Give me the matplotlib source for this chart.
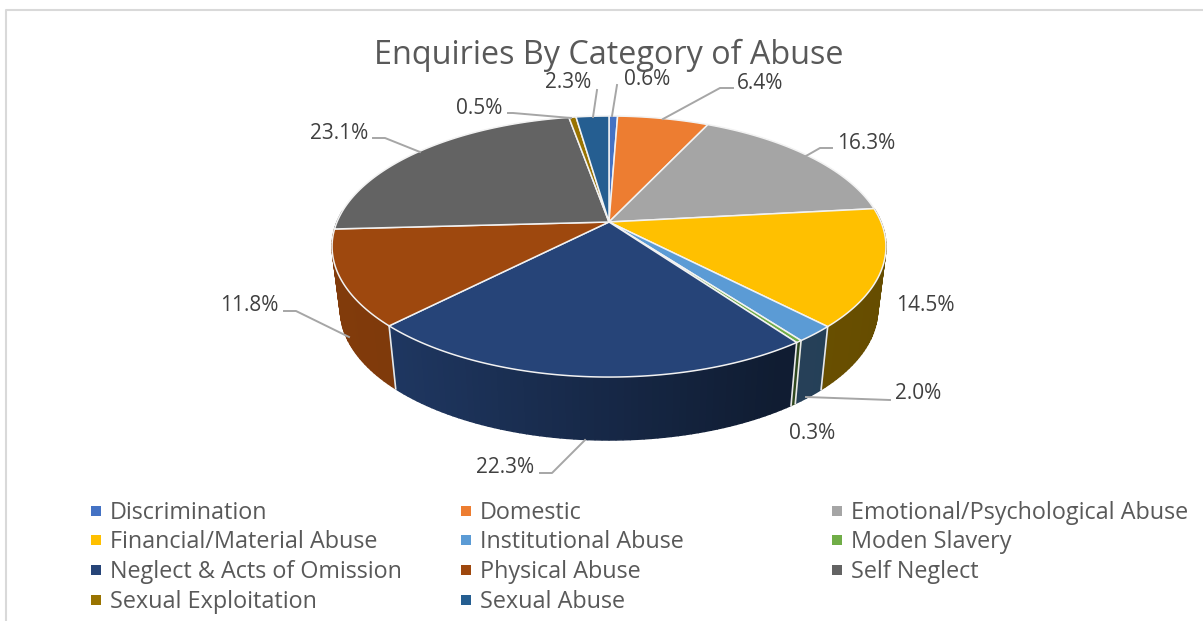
import numpy as np
import matplotlib

matplotlib.use('Agg')
import matplotlib.pyplot as plt
from matplotlib.patches import Polygon

plt.rcParams['font.family'] = ['Open Sans', 'DejaVu Sans']

categories = ['Discrimination', 'Domestic', 'Emotional/Psychological Abuse',
              'Financial/Material Abuse', 'Institutional Abuse', 'Moden Slavery',
              'Neglect & Acts of Omission', 'Physical Abuse', 'Self Neglect',
              'Sexual Exploitation', 'Sexual Abuse']
values = [0.6, 6.4, 16.3, 14.5, 2.0, 0.3, 22.3, 11.8, 23.1, 0.5, 2.3]
colors = ['#4472C4', '#ED7D31', '#A5A5A5', '#FFC000', '#5B9BD5', '#70AD47',
          '#264478', '#9E480E', '#636363', '#997300', '#255E91']

# label position (centre x, baseline y), then the leader line (empty when a label has none)
label_pos = [(647, 85), (760, 89), (866, 149), (925, 311), (918, 399), (812, 439),
             (505, 473), (249, 311), (339, 139), (479, 114), (568, 88)]
leaders = [[(612, 116), (617, 85)],
           [(663, 119), (720, 88), (733, 88)],
           [(806, 156), (820, 148), (832, 148)],
           [],
           [(806, 397), (890, 400)],
           [],
           [(585, 440), (552, 473), (540, 473)],
           [(349, 337), (296, 311), (284, 311)],
           [(420, 152), (385, 138), (373, 138)],
           [(571, 118), (513, 113), (508, 113)],
           [(593, 117), (597, 90)]]

legend_x = [96, 466, 837]
legend_y = [511, 540, 570, 600]

# pie geometry, in pixels
cx, cy = 609, 222
rx, ry, persp = 272, 125.9, 0.188
depth, bottom_scale = 63, 0.97

W, H = 1203, 621


def top_point(a):
    # a is clockwise from 12 o'clock; the far side is foreshortened
    w = 1 + persp * np.cos(a)
    return cx + rx * np.sin(a) / w, cy - ry * np.cos(a) / w


def bottom_point(a):
    x, y = top_point(a)
    return cx + (x - cx) * bottom_scale, y + depth


def shade(hex_col, x):
    # walls get darker from left to right
    frac = (x - 332) / 554
    k = np.interp(frac, [0, 0.12, 0.8, 1], [0.82, 0.8, 0.42, 0.4])
    return tuple(k * c for c in matplotlib.colors.to_rgb(hex_col))


fig = plt.figure(figsize=(W / 100, H / 100), dpi=100)
ax = fig.add_axes([0, 0, 1, 1])
ax.set_xlim(0, W)
ax.set_ylim(H, 0)
ax.axis('off')

# chart frame, only top and left show
ax.plot([6, 6, W], [H, 10, 10], color='#d9d9d9', lw=1.5, zorder=1)

shares = np.array(values) / sum(values)
edges = np.concatenate([[0], np.cumsum(shares)]) * 2 * np.pi

# side wall, thin strips; only the front part can be seen
strips = []
for i in range(len(values)):
    angles = np.linspace(edges[i], edges[i + 1], max(2, int(values[i] * 3)))
    for a0, a1 in zip(angles[:-1], angles[1:]):
        if np.cos((a0 + a1) / 2) < 0.1:
            strips.append((a0, a1, colors[i]))
strips.sort(key=lambda s: -np.cos((s[0] + s[1]) / 2))
for a0, a1, col in strips:
    pts = [top_point(a0), top_point(a1), bottom_point(a1), bottom_point(a0)]
    c = shade(col, pts[0][0])
    ax.add_patch(Polygon(pts, closed=True, facecolor=c, edgecolor=c, lw=1.0, zorder=2))

# seams between wedges on the visible wall
for a in edges[:-1]:
    if np.cos(a) < -0.2:
        x0, y0 = top_point(a)
        x1, y1 = bottom_point(a)
        ax.plot([x0, x1], [y0, y1], color='#e8e8e8', lw=1.2, zorder=3)

# top face
for i in range(len(values)):
    arc = np.linspace(edges[i], edges[i + 1], max(3, int(values[i] * 8)))
    pts = [(cx, cy)] + [top_point(a) for a in arc]
    ax.add_patch(Polygon(pts, closed=True, facecolor=colors[i], edgecolor='#f2f2f2',
                         lw=1.1, joinstyle='round', zorder=4))

for i, v in enumerate(values):
    ax.text(*label_pos[i], f'{v:.1f}%', color='#404040', fontsize=15,
            ha='center', va='baseline', zorder=6)
    if leaders[i]:
        xs, ys = zip(*leaders[i])
        ax.plot(xs, ys, color='#a6a6a6', lw=1.4, zorder=5)

ax.text(609, 64, 'Enquiries By Category of Abuse', color='#595959', fontsize=23.35,
        ha='center', va='baseline', zorder=6)

# legend is filled row by row
for i, name in enumerate(categories):
    row, col = divmod(i, 3)
    ax.scatter(legend_x[col], legend_y[row], marker='s', s=62, color=colors[i],
               linewidths=0, zorder=6)
    ax.text(legend_x[col] + 14, legend_y[row] + 8, name, color='#595959', fontsize=16.8,
            ha='left', va='baseline', zorder=6)

fig.savefig('out.png', dpi=100)
